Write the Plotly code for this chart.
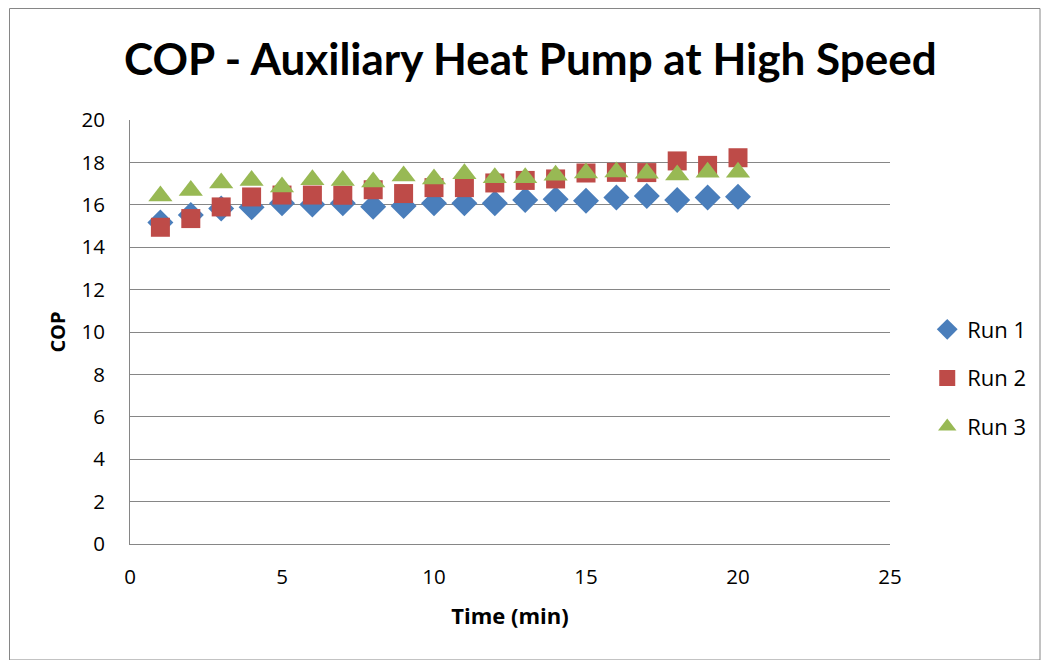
import plotly.graph_objects as go

# Time in minutes
time_min = list(range(1, 21))

# Coefficient of performance for each run
run1 = [15.16, 15.52, 15.83, 15.88, 16.07, 16.02, 16.07, 15.91, 15.94, 16.07,
        16.07, 16.07, 16.23, 16.26, 16.19, 16.35, 16.42, 16.23, 16.35, 16.38]
run2 = [14.94, 15.35, 15.90, 16.37, 16.46, 16.46, 16.45, 16.71, 16.53, 16.81,
        16.81, 17.03, 17.15, 17.22, 17.50, 17.53, 17.52, 18.07, 17.86, 18.22]
run3 = [16.42, 16.68, 17.03, 17.15, 16.84, 17.18, 17.15, 17.07, 17.36, 17.22,
        17.47, 17.28, 17.28, 17.39, 17.50, 17.55, 17.49, 17.41, 17.53, 17.53]

series = [
    ("Run 1", run1, "#4A7EBB", "diamond", 20),
    ("Run 2", run2, "#BE4B48", "square", 19),
    ("Run 3", run3, "#98B954", "triangle-up", 21),
]

fig = go.Figure()
for name, vals, color, symbol, size in series:
    fig.add_trace(go.Scatter(
        x=time_min, y=vals, mode="markers", name=name, legendgroup=name,
        marker=dict(symbol=symbol, size=size, color=color, line=dict(width=0)),
    ))

TITLE_FONT = "Lato, sans-serif"
FONT = "Open Sans, sans-serif"

fig.update_layout(
    width=1044, height=660,
    margin=dict(l=130, r=154, t=120, b=116),
    paper_bgcolor="white", plot_bgcolor="white",
    font=dict(family=FONT, size=20, color="black"),
    title=dict(text="<b>COP - Auxiliary Heat Pump at High Speed</b>",
               x=0.508, xanchor="center", y=0.91, yanchor="middle",
               font=dict(size=44, family=TITLE_FONT)),
    showlegend=True,
    legend=dict(x=1.049, xanchor="left", y=0.3915, yanchor="middle",
                traceorder="grouped", tracegroupgap=17,
                font=dict(size=22, family=FONT), itemwidth=30),
    xaxis=dict(range=[0, 25], dtick=5, showgrid=False, zeroline=False,
               showline=True, linecolor="#868686", linewidth=1,
               ticks="", ticklabelstandoff=14,
               tickfont=dict(size=20.5),
               title=dict(text="<b>Time (min)</b>", font=dict(size=22), standoff=20)),
    yaxis=dict(range=[0, 20], dtick=2, showgrid=True, gridcolor="#868686", gridwidth=1,
               zeroline=False, showline=True, linecolor="#868686", linewidth=1,
               ticks="", ticklabelstandoff=20,
               tickfont=dict(size=20.5),
               title=dict(text="<b>COP</b>", font=dict(size=20), standoff=10)),
    shapes=[dict(type="rect", xref="paper", yref="paper",
                 x0=(9.5 - 130) / 760, x1=(1040 - 130) / 760,
                 y0=(544 - 660) / 424, y1=(544 - 8.5) / 424,
                 line=dict(color="#868686", width=1), fillcolor="rgba(0,0,0,0)", layer="below")],
)

fig.write_html("out.html")
